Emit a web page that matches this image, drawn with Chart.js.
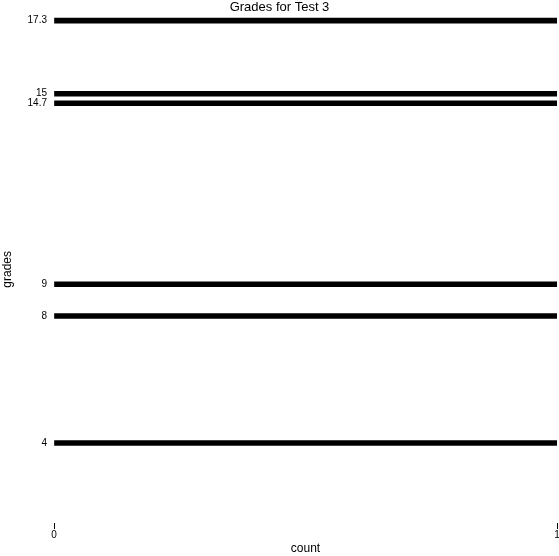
<!DOCTYPE html>
<html>
<head>
<meta charset="utf-8">
<script src="https://cdn.jsdelivr.net/npm/chart.js@4/dist/chart.umd.min.js"></script>
<style>
  html, body { margin: 0; padding: 0; background: #fff; }
  #wrap { width: 559px; height: 556px; }
</style>
</head>
<body>
<div id="wrap"><canvas id="gradesChart"></canvas></div>
<script>
// grade values, one bar each
const grades = [17.3, 15, 14.7, 9, 8, 4];
const counts = [1, 1, 1, 1, 1, 1];
const xTicks = [0, 1];

const font = 'Liberation Sans, Arial, Helvetica, sans-serif';

new Chart(document.getElementById('gradesChart'), {
    type: 'bar',
    data: {
        datasets: [{
            data: grades.map((g, i) => ({ x: counts[i], y: g })),
            backgroundColor: '#000',
            borderWidth: 0,
            barThickness: 5
        }]
    },
    options: {
        indexAxis: 'y',
        responsive: true,
        maintainAspectRatio: false,
        animation: false,
        layout: { padding: 0 },
        plugins: {
            legend: { display: false },
            tooltip: { enabled: false },
            title: {
                display: true,
                text: 'Grades for Test 3',
                color: '#000',
                font: { family: font, size: 13, weight: 'normal' },
                padding: { top: 0, bottom: 0 }
            }
        },
        scales: {
            x: {
                type: 'linear',
                min: 0,
                max: 1,
                afterBuildTicks: s => { s.ticks = xTicks.map(v => ({ value: v })); },
                afterFit: s => { s.height = 33; s.paddingRight = 2; },
                border: { display: false },
                grid: { drawOnChartArea: false, drawTicks: true, tickLength: 6, color: '#000' },
                ticks: { color: '#000', padding: 0, font: { family: font, size: 10 } },
                title: { display: true, text: 'count', color: '#000', padding: 0, font: { family: font, size: 12 } }
            },
            y: {
                type: 'linear',
                offset: false,
                min: 1.48,
                max: 17.46,
                afterBuildTicks: s => { s.ticks = grades.map(v => ({ value: v })); },
                afterFit: s => { s.width = 54; },
                border: { display: false },
                grid: { display: false, drawTicks: false },
                ticks: { color: '#000', padding: 7, font: { family: font, size: 10 }, callback: v => String(v) },
                title: { display: true, text: 'grades', color: '#000', padding: 0, font: { family: font, size: 12 } }
            }
        }
    }
});
</script>
</body>
</html>
